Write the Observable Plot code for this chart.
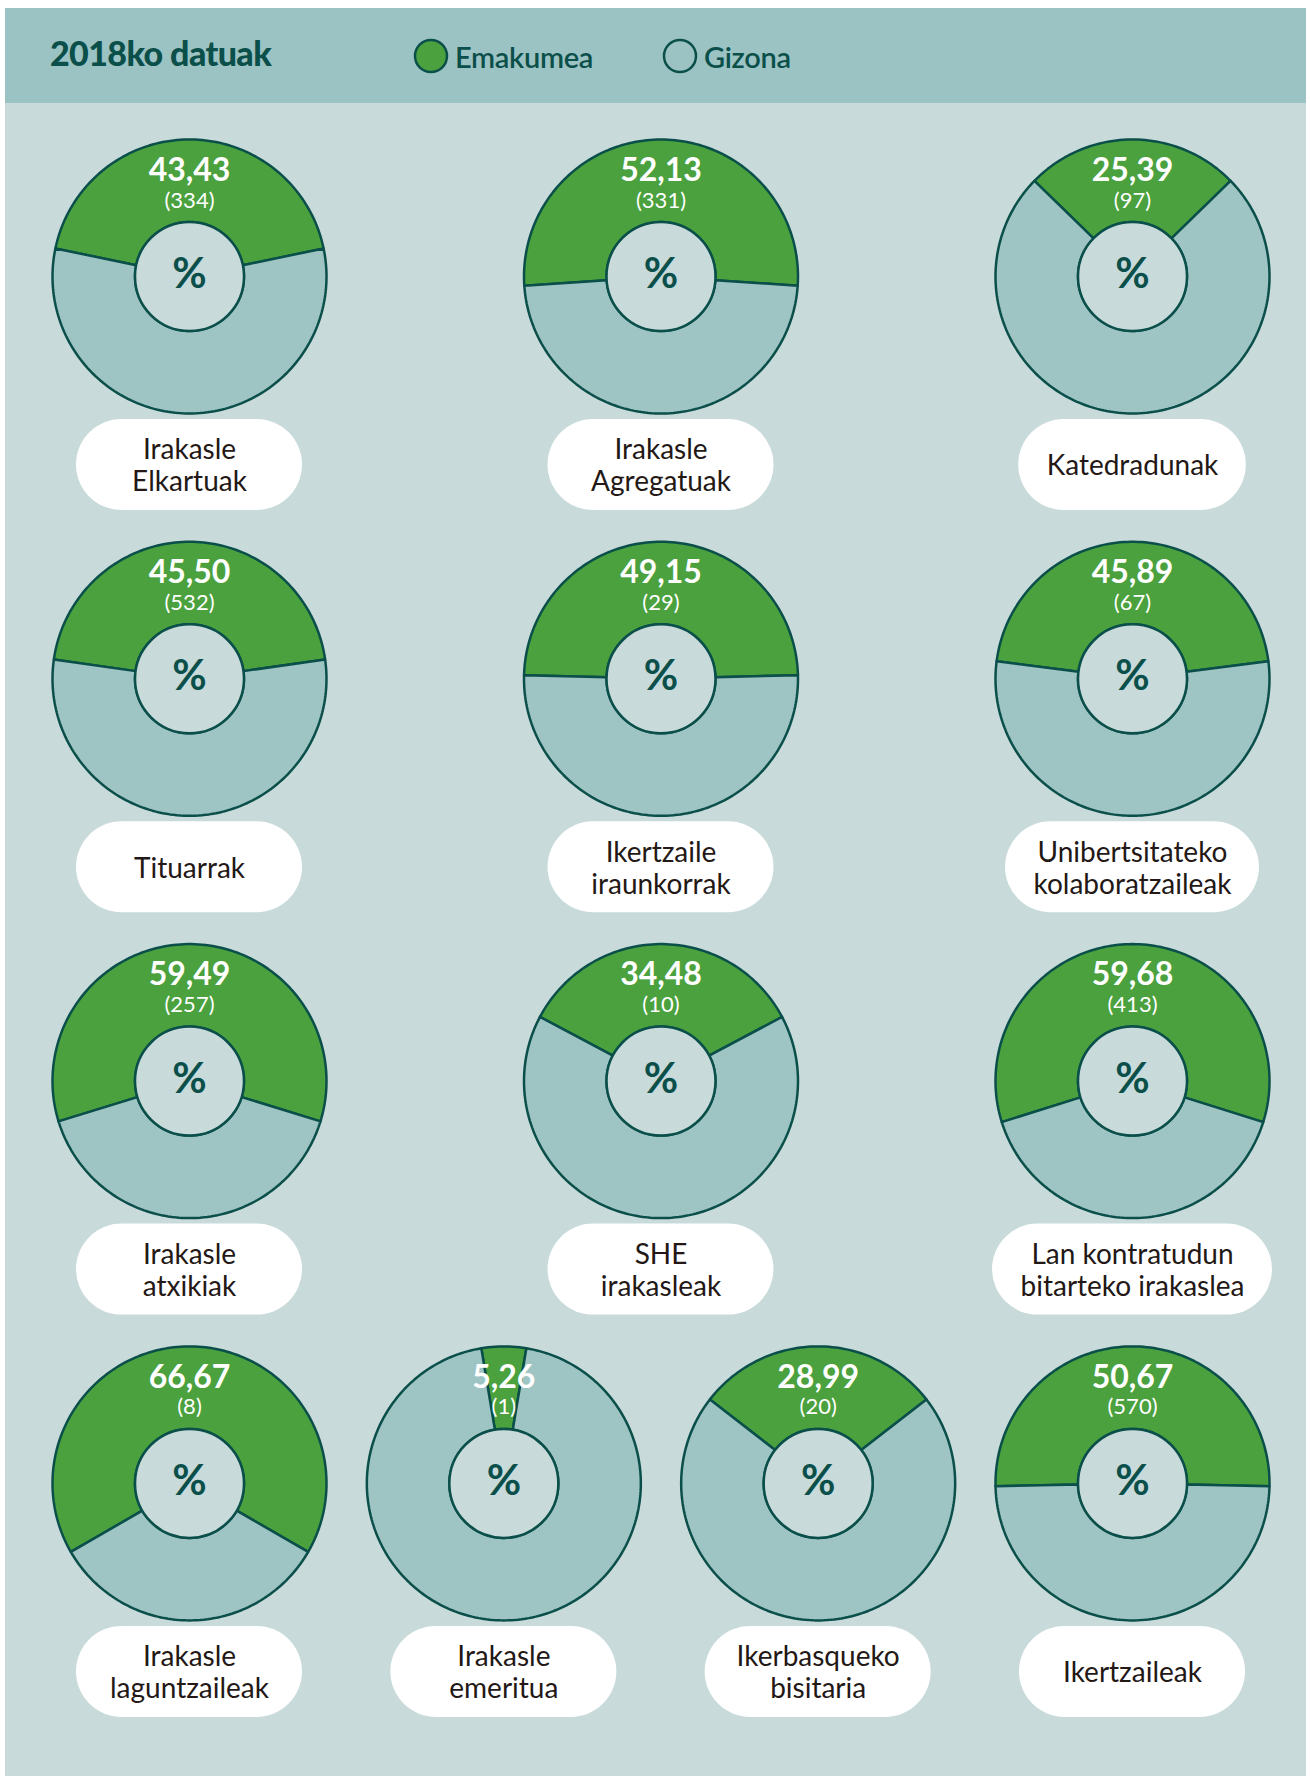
<!DOCTYPE html>
<html>
<head>
<meta charset="utf-8">
<script src="https://cdn.jsdelivr.net/npm/d3@7"></script>
<script src="https://cdn.jsdelivr.net/npm/@observablehq/plot@0.6"></script>
<style>
  body { margin: 0; background: #ffffff; font-family: Lato, "Noto Sans", sans-serif; }
  #panel { position: absolute; left: 5px; top: 8px; width: 1301px; height: 1768px; background: #c8dada; overflow: hidden; }
  #header { position: absolute; left: 0; top: 0; width: 1301px; height: 95px; background: #9cc3c3; }
  #title { position: absolute; left: 45px; top: 25px; line-height: 40px; font-size: 34px; font-weight: 900; color: #0b4f4a; letter-spacing: -0.6px; }
  .leg { position: absolute; top: 29px; height: 38px; display: flex; align-items: center; gap: 6px; font-size: 29px; font-weight: 600; color: #0b4f4a; letter-spacing: -0.3px; }
  .leg svg { display: block; }
  #chart { position: absolute; left: 0; top: 95px; }
</style>
</head>
<body>
<div id="panel">
  <div id="header">
    <div id="title">2018ko datuak</div>
    <div class="leg" style="left:408px"><svg width="36" height="36"><circle cx="18" cy="18" r="16" fill="#4aa13e" stroke="#0b4f4a" stroke-width="2.5"/></svg><span>Emakumea</span></div>
    <div class="leg" style="left:657px"><svg width="36" height="36"><circle cx="18" cy="18" r="16" fill="none" stroke="#0b4f4a" stroke-width="2.5"/></svg><span>Gizona</span></div>
  </div>
  <div id="chart"></div>
</div>
<script>
// ---- data ----
const categories = [
  "Irakasle\nElkartuak", "Irakasle\nAgregatuak", "Katedradunak",
  "Tituarrak", "Ikertzaile\niraunkorrak", "Unibertsitateko\nkolaboratzaileak",
  "Irakasle\natxikiak", "SHE\nirakasleak", "Lan kontratudun\nbitarteko irakaslea",
  "Irakasle\nlaguntzaileak", "Irakasle\nemeritua", "Ikerbasqueko\nbisitaria", "Ikertzaileak"
];
const womenPct = [43.43, 52.13, 25.39, 45.50, 49.15, 45.89, 59.49, 34.48, 59.68, 66.67, 5.26, 28.99, 50.67];
const womenCount = [334, 331, 97, 532, 29, 67, 257, 10, 413, 8, 1, 20, 570];
const rowSizes = [3, 3, 3, 4];
const sexes = ["Emakumea", "Gizona"];

// ---- layout ----
const W = 1301, H = 1673;
const R = 137, r = 54.5;
const x0 = 184, x1 = 1127, y0 = 173, rowStep = 402.3;
const pillH = 91, pillOff = 188.5, labelFont = 28, labelLine = 32;

const canvas = document.createElement("canvas");
const ctx = canvas.getContext("2d");
ctx.font = `${labelFont}px Lato`;

const donuts = [];
let idx = 0;
rowSizes.forEach((n, row) => {
  for (let col = 0; col < n; col++) {
    const i = idx++;
    const lines = categories[i].split("\n");
    const tw = d3.max(lines, l => ctx.measureText(l).width);
    donuts.push({
      i, label: categories[i], pct: womenPct[i], count: womenCount[i],
      cx: x0 + col * (x1 - x0) / (n - 1),
      cy: y0 + row * rowStep,
      pw: Math.max(226, tw + 56)
    });
  }
});

// ring slice polygons
const slices = [];
donuts.forEach(d => {
  const a = Math.PI * d.pct / 100;
  const spans = [["Emakumea", -a, a], ["Gizona", a, 2 * Math.PI - a]];
  spans.forEach(([sex, t0, t1]) => {
    const steps = Math.max(4, Math.ceil((t1 - t0) / (2 * Math.PI) * 240));
    const id = d.i + "-" + sex;
    for (let k = 0; k <= steps; k++) {
      const t = t0 + (t1 - t0) * k / steps;
      slices.push({id, sex, x: d.cx + R * Math.sin(t), y: d.cy - R * Math.cos(t)});
    }
    for (let k = steps; k >= 0; k--) {
      const t = t0 + (t1 - t0) * k / steps;
      slices.push({id, sex, x: d.cx + r * Math.sin(t), y: d.cy - r * Math.cos(t)});
    }
  });
});

const fmt = v => v.toFixed(2).replace(".", ",");
const stroke = "#0b4f4a";

const chart = Plot.plot({
  width: W, height: H,
  margin: 0,
  style: {background: "transparent", fontFamily: "Lato, 'Noto Sans', sans-serif", overflow: "visible"},
  x: {type: "identity", axis: null},
  y: {type: "identity", axis: null},
  color: {domain: sexes, range: ["#4aa13e", "#9ec4c3"]},
  marks: [
    Plot.line(slices, {
      x: "x", y: "y", z: "id", fill: "sex",
      stroke, strokeWidth: 2.5, strokeLinejoin: "round", curve: "linear-closed"
    }),
    Plot.dot(donuts, {x: "cx", y: "cy", r: r, fill: "#c8dada", stroke, strokeWidth: 2.5}),
    Plot.text(donuts, {x: "cx", y: d => d.cy - 106, text: d => fmt(d.pct), fill: "white", fontSize: 32, fontWeight: 700}),
    Plot.text(donuts, {x: "cx", y: d => d.cy - 76, text: d => `(${d.count})`, fill: "white", fontSize: 22, fontWeight: 400}),
    Plot.text(donuts, {x: "cx", y: d => d.cy - 2, text: () => "%", fill: stroke, fontSize: 42, fontWeight: 700}),
    Plot.rect(donuts, {
      x1: d => d.cx - d.pw / 2, x2: d => d.cx + d.pw / 2,
      y1: d => d.cy + pillOff - pillH / 2, y2: d => d.cy + pillOff + pillH / 2,
      rx: pillH / 2, fill: "white"
    }),
    Plot.text(donuts, {x: "cx", y: d => d.cy + pillOff, text: "label", fill: "#231815", fontSize: labelFont, lineHeight: labelLine / labelFont, lineAnchor: "middle"})
  ]
});
document.getElementById("chart").appendChild(chart);
</script>
</body>
</html>
